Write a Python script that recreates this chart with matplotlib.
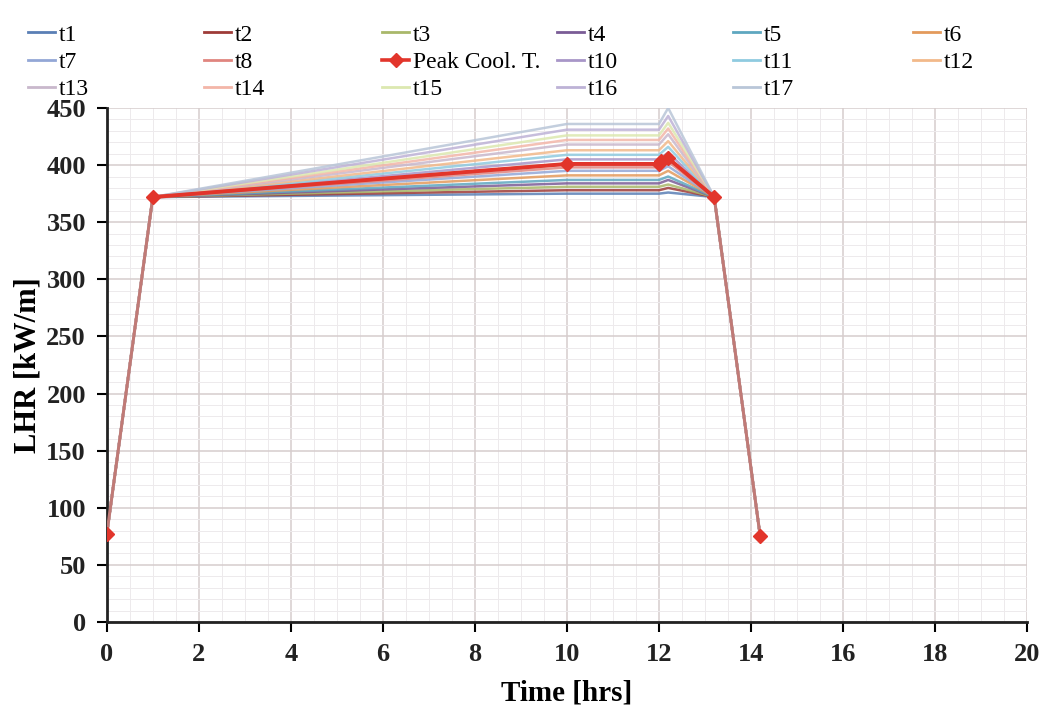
import matplotlib.pyplot as plt
from matplotlib.lines import Line2D
from matplotlib.ticker import MultipleLocator

# time points shared by every curve (hrs)
times = [0, 1, 10, 12, 12.2, 13.2, 14.2]

# LHR values for each curve (kW/m): start, ramp end, plateau, plateau end, spike, ramp down, end
series = {
    "t1": [77, 372, 375, 375, 376, 372, 75],
    "t2": [77, 372, 378, 378, 380, 372, 75],
    "t3": [77, 372, 381, 381, 383, 372, 75],
    "t4": [77, 372, 384, 384, 387, 372, 75],
    "t5": [77, 372, 387, 387, 390, 372, 75],
    "t6": [77, 372, 391, 391, 395, 372, 75],
    "t7": [77, 372, 395, 395, 399, 372, 75],
    "t8": [77, 372, 398, 398, 403, 372, 75],
    "t10": [77, 372, 405, 405, 411, 372, 75],
    "t11": [77, 372, 409, 409, 416, 372, 75],
    "t12": [77, 372, 413, 413, 421, 372, 75],
    "t13": [77, 372, 418, 418, 427, 372, 75],
    "t14": [77, 372, 422, 422, 432, 372, 75],
    "t15": [77, 372, 426, 426, 437, 372, 75],
    "t16": [77, 372, 431, 431, 443, 372, 75],
    "t17": [77, 372, 436, 436, 450, 372, 75],
}

peak_times = [0, 1, 10, 12, 12.05, 12.2, 13.2, 14.2]
peak_values = [77, 372, 401, 401, 404, 406, 372, 75]

colors = {
    "t1": "#5A7FB5", "t2": "#9E3B38", "t3": "#A9B86A", "t4": "#7A5C96",
    "t5": "#5EA7C0", "t6": "#E39A5C", "t7": "#93A7D6", "t8": "#E0857F",
    "t10": "#A896C8", "t11": "#8FCBE0", "t12": "#F2B98A", "t13": "#C9B8CC",
    "t14": "#F3B6A8", "t15": "#DCE8B0", "t16": "#BDB2D6", "t17": "#B9C6D8",
}
peak_color = "#E2352B"
ramp_color = "#C07A76"

legend_order = ["t1", "t2", "t3", "t4", "t5", "t6",
                "t7", "t8", "Peak Cool. T.", "t10", "t11", "t12",
                "t13", "t14", "t15", "t16", "t17"]

plt.rcParams["font.family"] = ["Liberation Serif", "DejaVu Serif"]

fig = plt.figure(figsize=(10.47, 7.09), dpi=100)
ax = fig.add_axes([0.102, 0.1227, 0.879, 0.725])

for name, values in series.items():
    ax.plot(times, values, color=colors[name], linewidth=1.8, alpha=0.85)

# all curves overlap on the ramps, which show as a muted red
ax.plot(peak_times, peak_values, color=ramp_color, linewidth=2.2, zorder=4)
ax.plot(peak_times[1:-1], peak_values[1:-1], color=peak_color, linewidth=2.8,
        zorder=5)
ax.plot(peak_times, peak_values, color=peak_color, linestyle="none",
        marker="D", markersize=7, zorder=6)

ax.set_xlim(0, 20)
ax.set_ylim(0, 450)
ax.xaxis.set_major_locator(MultipleLocator(2))
ax.xaxis.set_minor_locator(MultipleLocator(0.5))
ax.yaxis.set_major_locator(MultipleLocator(50))
ax.yaxis.set_minor_locator(MultipleLocator(10))
ax.grid(which="major", color="#D6CDCD", linewidth=1.1)
ax.grid(which="minor", color="#EDEAEC", linewidth=0.7)
ax.set_axisbelow(True)

for side in ["top", "right"]:
    ax.spines[side].set_visible(False)
for side in ["left", "bottom"]:
    ax.spines[side].set_linewidth(2)
    ax.spines[side].set_color("#222222")

ax.tick_params(which="major", direction="out", length=7, width=1.5,
               labelsize=19, pad=8)
ax.tick_params(which="minor", length=0)
for lab in ax.get_xticklabels() + ax.get_yticklabels():
    lab.set_fontweight("bold")
    lab.set_color("#222222")

ax.set_xlabel("Time [hrs]", fontsize=21, fontweight="bold", labelpad=10)
ax.set_ylabel("LHR [kW/m]", fontsize=22, fontweight="bold", labelpad=3)

# legend laid out in six fixed-width columns like the original
col_x = [0.027, 0.195, 0.365, 0.532, 0.700, 0.872]
for c in range(6):
    handles = []
    labels = []
    for r in range(3):
        idx = r * 6 + c
        if idx >= len(legend_order):
            continue
        name = legend_order[idx]
        if name == "Peak Cool. T.":
            h = Line2D([], [], color=peak_color, linewidth=2.6, marker="D",
                       markersize=7)
        else:
            h = Line2D([], [], color=colors[name], linewidth=2)
        handles.append(h)
        labels.append(name)
    fig.legend(handles, labels, loc="upper left", bbox_to_anchor=(col_x[c], 0.966),
               frameon=False, fontsize=17, handlelength=1.15, handletextpad=0.15,
               labelspacing=0.24, borderaxespad=0.0, borderpad=0.0)

fig.savefig("out.png", dpi=100)
